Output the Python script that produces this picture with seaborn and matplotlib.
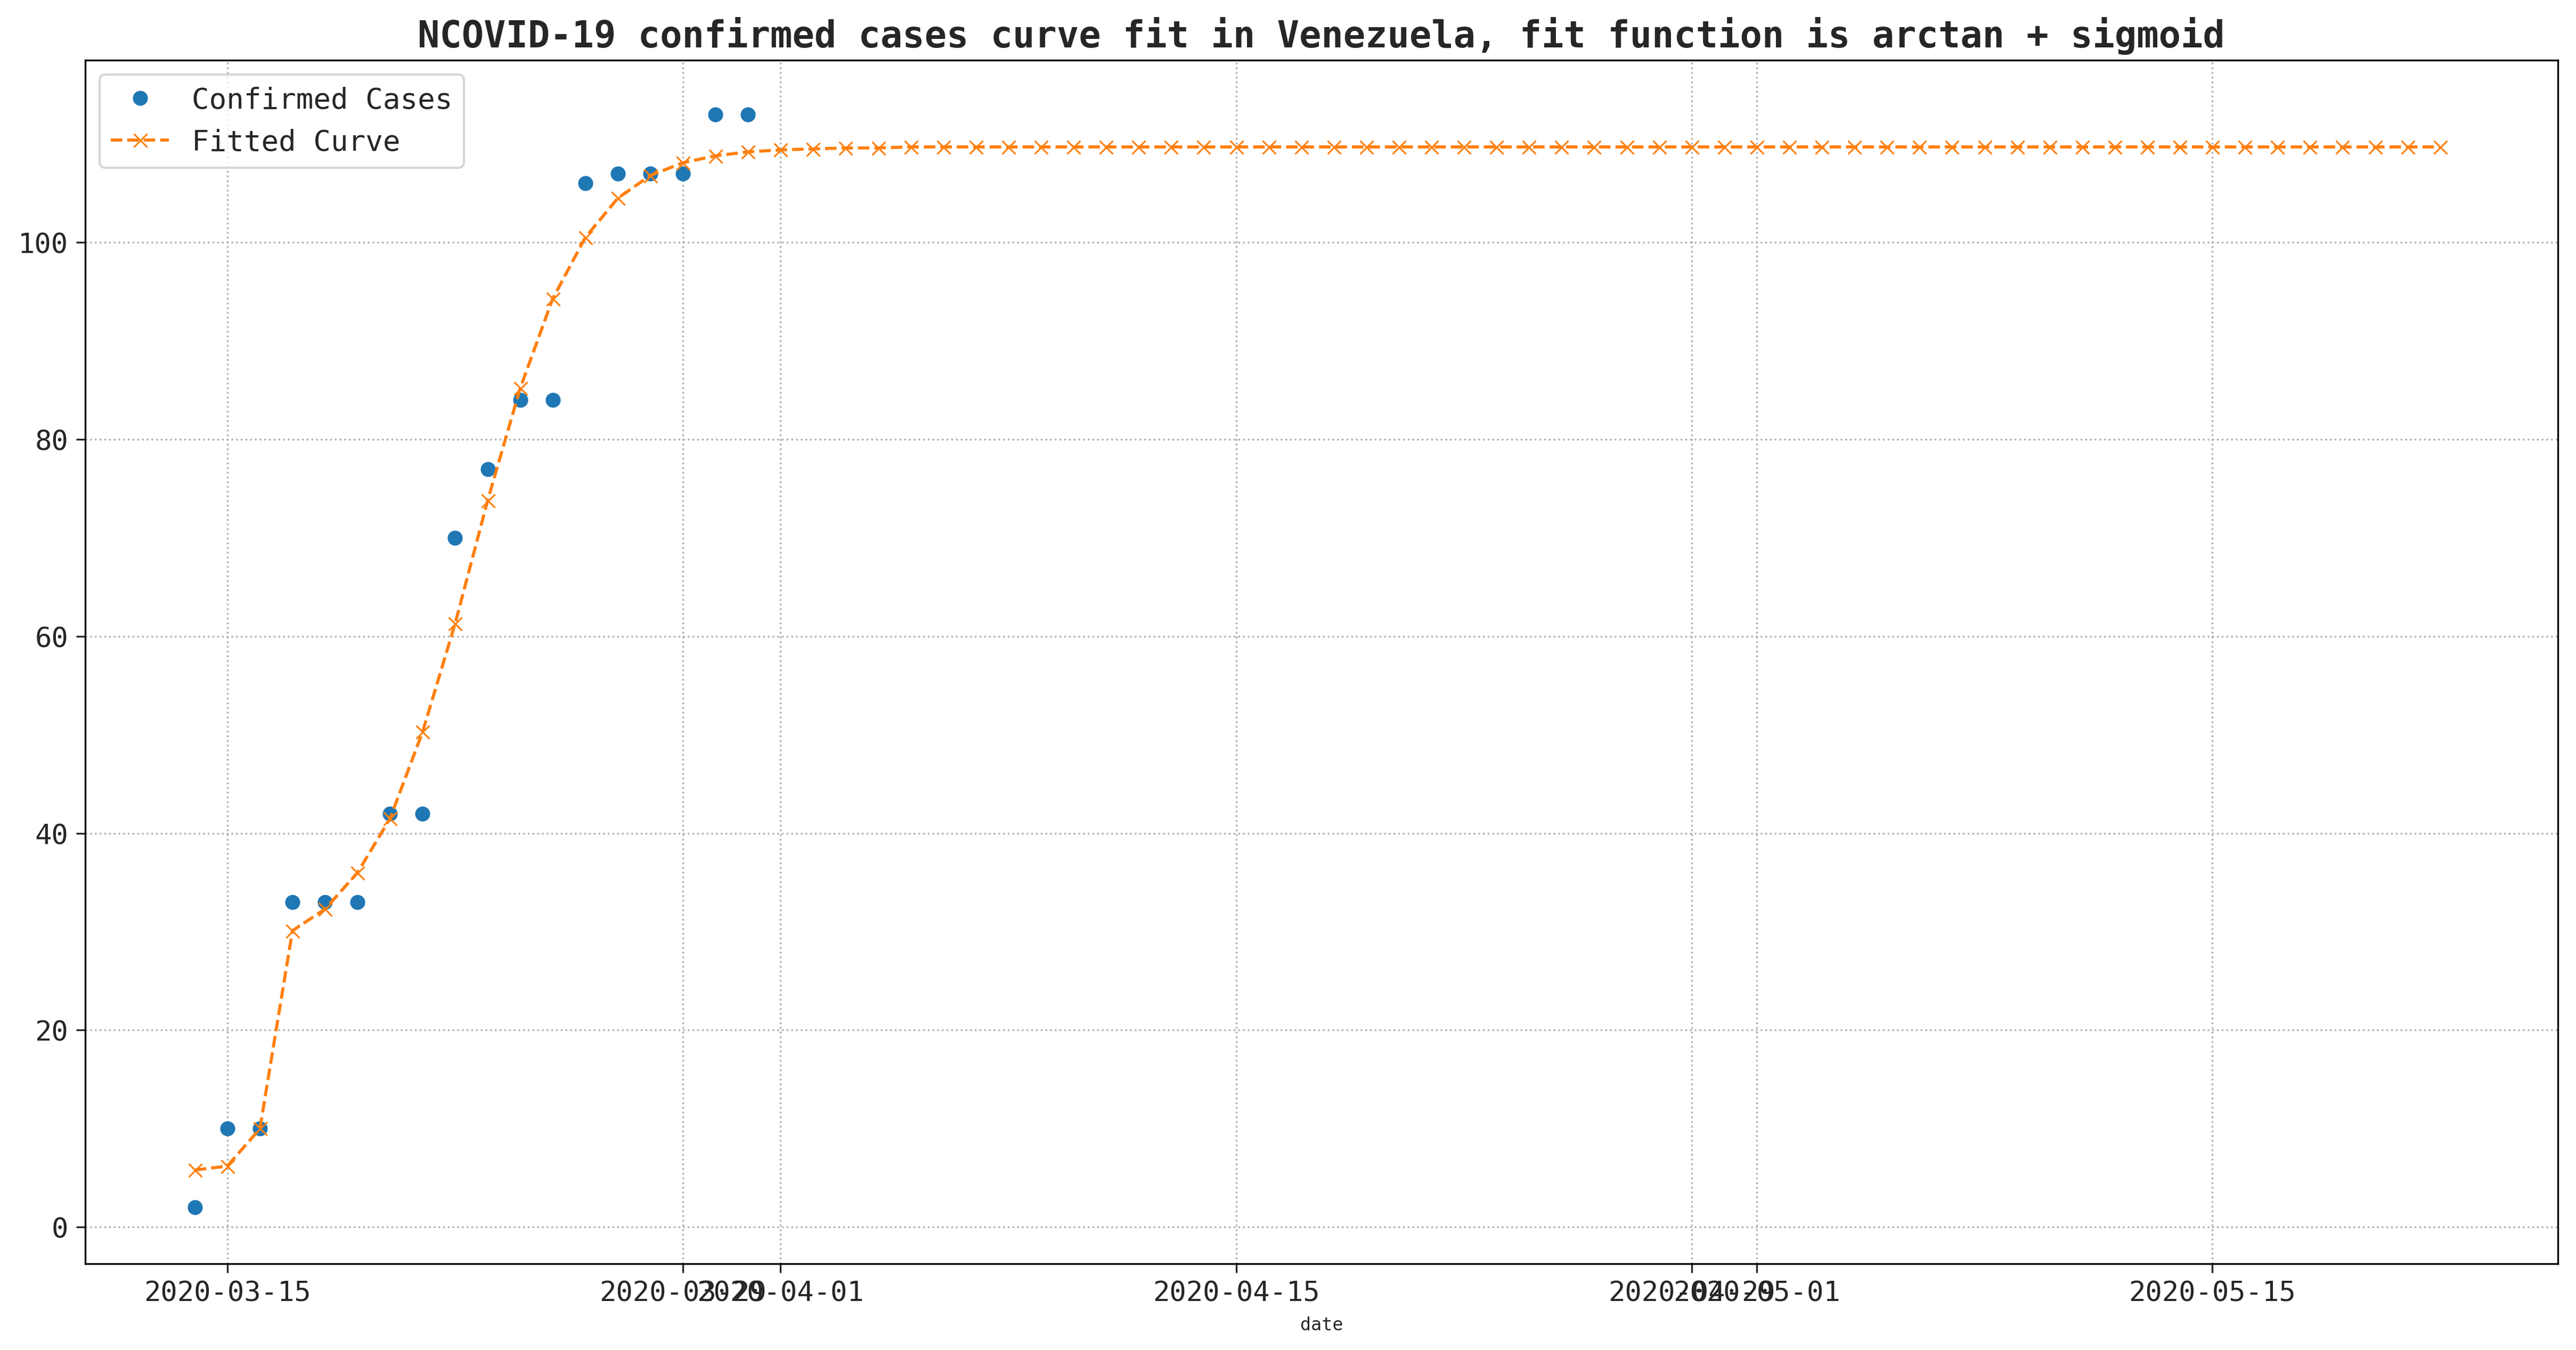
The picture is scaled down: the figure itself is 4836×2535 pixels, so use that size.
import matplotlib
matplotlib.use("Agg")
import matplotlib.pyplot as plt
import seaborn as sns
import pandas as pd
import numpy as np

confirmed_dates = pd.date_range("2020-03-14", "2020-03-31", freq="D")
confirmed = [2, 10, 10, 33, 33, 33, 42, 42, 70, 77, 84, 84, 106, 107, 107, 107, 113, 113]

fit_dates = pd.date_range("2020-03-14", "2020-05-22", freq="D")
fitted = [5.8, 6.2, 10.0, 30.1, 32.3, 36.0, 41.5, 50.3, 61.3, 73.8, 85.2, 94.3, 100.5, 104.5,
          106.8, 108.1, 108.8, 109.2, 109.4, 109.5, 109.6, 109.6, 109.7, 109.7, 109.7, 109.7,
          109.7, 109.7, 109.7, 109.7, 109.7, 109.7, 109.7, 109.7, 109.7, 109.7, 109.7, 109.7,
          109.7, 109.7, 109.7, 109.7, 109.7, 109.7, 109.7, 109.7, 109.7, 109.7, 109.7, 109.7,
          109.7, 109.7, 109.7, 109.7, 109.7, 109.7, 109.7, 109.7, 109.7, 109.7, 109.7, 109.7,
          109.7, 109.7, 109.7, 109.7, 109.7, 109.7, 109.7, 109.7]
fit_dates = fit_dates[:len(fitted)]

tick_labels = ["2020-03-15", "2020-03-29", "2020-04-01", "2020-04-15", "2020-04-29", "2020-05-01", "2020-05-15"]
yticks = [0, 20, 40, 60, 80, 100]

sns.set_style("white")
plt.rcParams['font.family'] = ['DejaVu Sans Mono', 'DejaVu Sans']

fig = plt.figure(figsize=(16.12, 8.453), dpi=300)
ax = fig.add_axes([0.033, 0.064, 0.960, 0.891])

df_c = pd.DataFrame({"date": confirmed_dates, "v": confirmed})
df_f = pd.DataFrame({"date": fit_dates, "v": fitted})
sns.lineplot(data=df_c, x="date", y="v", ax=ax, linestyle="none", marker="o", markersize=6,
             color="#1f77b4", markeredgecolor="#1f77b4", label="Confirmed Cases")
sns.lineplot(data=df_f, x="date", y="v", ax=ax, linestyle="--", marker="x", markersize=6,
             color="#ff7f0e", markeredgecolor="#ff7f0e", linewidth=1.4, label="Fitted Curve")

ax.set_xticks(pd.to_datetime(tick_labels))
ax.set_xticklabels(tick_labels, fontsize=12.5)
ax.set_yticks(yticks)
ax.set_yticklabels([str(v) for v in yticks], fontsize=12.5)
ax.tick_params(axis="both", length=4, direction="out", bottom=True, left=True)
ax.grid(True, linestyle=":", color="#b0b0b0", linewidth=0.8)
for s in ax.spines.values():
    s.set_color("black"); s.set_linewidth(0.8)
ax.set_xlabel("date", fontsize=8)
ax.set_ylabel("")
ax.set_ylim(-3.7, 118.5)
ax.set_xlim(pd.Timestamp("2020-03-10 15:00"), pd.Timestamp("2020-05-25 15:00"))
ax.set_title("NCOVID-19 confirmed cases curve fit in Venezuela, fit function is arctan + sigmoid",
             fontsize=16.5, fontweight="bold")
ax.legend(loc="upper left", fontsize=13, frameon=True)
fig.savefig("out.png", dpi=300)
